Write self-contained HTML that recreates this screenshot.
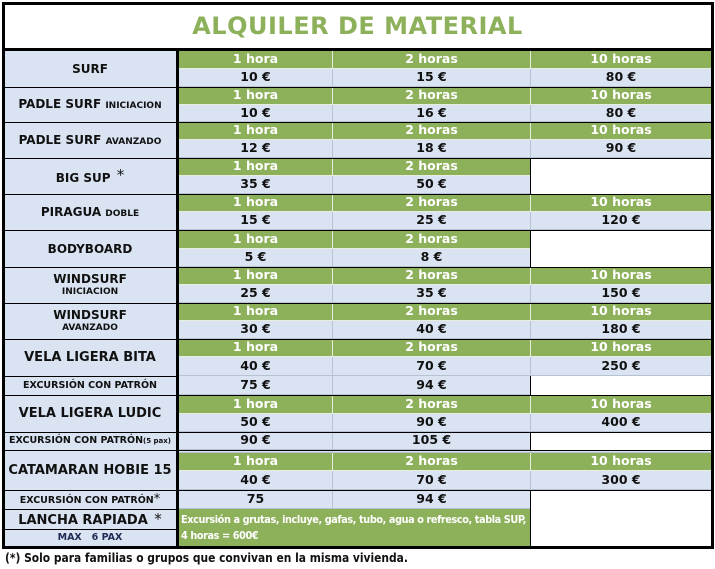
<!DOCTYPE html>
<html><head><meta charset="utf-8"><style>
*{margin:0;padding:0;box-sizing:border-box}
body{width:715px;height:569px;background:#fff;position:relative;font-family:Verdana,"DejaVu Sans","Liberation Sans",sans-serif;font-weight:bold;overflow:hidden}
div{position:absolute}
.c{display:flex;align-items:center;justify-content:center;text-align:center;font-size:12.5px;line-height:1}
.g{background:#8db05a;color:#fff;border-left:1px solid #e8eedd;border-bottom:1px solid #e8eedd}
.b{background:#dae3f2;color:#111;border-left:1px solid #b8c2d2;border-bottom:1px solid #b8c2d2}
.w{background:#fff}
.c1{left:178px;width:154px}.c2{left:332px;width:198px}.c3{left:530px;width:181px}
.L{left:3px;width:174px;background:#dae3f2;color:#111;font-size:12px}
.s{font-size:9px}
.hl{left:3px;width:709px;height:1px;background:#000}
</style></head><body>
<div style="left:3px;top:3px;width:709px;height:45px;" class="c"><span style="color:#8db05a;font-size:24px;letter-spacing:0.5px">ALQUILER DE MATERIAL</span></div>

<div class="L c" style="top:51px;height:36px">SURF</div>
<div class="L c" style="top:87px;height:35px"><span>PADLE SURF <span class="s">INICIACION</span></span></div>
<div class="L c" style="top:122px;height:36px"><span>PADLE SURF <span class="s">AVANZADO</span></span></div>
<div class="L c" style="top:158px;height:36px"><span>BIG SUP <span style="font-weight:normal;font-size:15px;margin-left:2px;vertical-align:2px">*</span></span></div>
<div class="L c" style="top:194px;height:36px"><span>PIRAGUA <span class="s">DOBLE</span></span></div>
<div class="L c" style="top:230px;height:37px">BODYBOARD</div>
<div class="L c" style="top:267px;height:36px;flex-direction:column">WINDSURF<span class="s" style="margin-top:3px">INICIACION</span></div>
<div class="L c" style="top:303px;height:36px;flex-direction:column">WINDSURF<span class="s" style="margin-top:3px">AVANZADO</span></div>
<div class="L c" style="top:339px;height:37px;font-size:13px">VELA LIGERA BITA</div>
<div class="L c s" style="top:376px;height:19px;font-size:9.5px">EXCURSIÓN CON PATRÓN</div>
<div class="L c" style="top:395px;height:37px;font-size:13px">VELA LIGERA LUDIC</div>
<div class="L c" style="top:432px;height:18px;font-size:9.5px"><span>EXCURSIÓN CON PATRÓN<span style="font-size:7px">(5 pax)</span></span></div>
<div class="L c" style="top:450px;height:40px;font-size:13px">CATAMARAN HOBIE 15</div>
<div class="L c" style="top:490px;height:19px;font-size:9.5px"><span>EXCURSIÓN CON PATRÓN<span style="font-weight:normal;font-size:13px">*</span></span></div>
<div class="L c" style="top:509px;height:20px;font-size:13px"><span>LANCHA RAPIADA <span style="font-weight:normal;font-size:15px;margin-left:2px">*</span></span></div>
<div class="L c" style="top:529px;height:18px;font-size:9.5px;color:#1f2a55">MAX&nbsp;&nbsp;&nbsp;6 PAX</div>

<div class="c g c1" style="top:51px;height:18px">1 hora</div><div class="c g c2" style="top:51px;height:18px">2 horas</div><div class="c g c3" style="top:51px;height:18px">10 horas</div>
<div class="c b c1" style="top:69px;height:18px">10 €</div><div class="c b c2" style="top:69px;height:18px">15 €</div><div class="c b c3" style="top:69px;height:18px">80 €</div>
<div class="c g c1" style="top:87px;height:18px">1 hora</div><div class="c g c2" style="top:87px;height:18px">2 horas</div><div class="c g c3" style="top:87px;height:18px">10 horas</div>
<div class="c b c1" style="top:105px;height:17px">10 €</div><div class="c b c2" style="top:105px;height:17px">16 €</div><div class="c b c3" style="top:105px;height:17px">80 €</div>
<div class="c g c1" style="top:122px;height:18px">1 hora</div><div class="c g c2" style="top:122px;height:18px">2 horas</div><div class="c g c3" style="top:122px;height:18px">10 horas</div>
<div class="c b c1" style="top:140px;height:18px">12 €</div><div class="c b c2" style="top:140px;height:18px">18 €</div><div class="c b c3" style="top:140px;height:18px">90 €</div>
<div class="c g c1" style="top:158px;height:18px">1 hora</div><div class="c g c2" style="top:158px;height:18px">2 horas</div><div class="c w c3" style="top:158px;height:36px"></div>
<div class="c b c1" style="top:176px;height:18px">35 €</div><div class="c b c2" style="top:176px;height:18px">50 €</div>
<div class="c g c1" style="top:194px;height:18px">1 hora</div><div class="c g c2" style="top:194px;height:18px">2 horas</div><div class="c g c3" style="top:194px;height:18px">10 horas</div>
<div class="c b c1" style="top:212px;height:18px">15 €</div><div class="c b c2" style="top:212px;height:18px">25 €</div><div class="c b c3" style="top:212px;height:18px">120 €</div>
<div class="c g c1" style="top:230px;height:19px">1 hora</div><div class="c g c2" style="top:230px;height:19px">2 horas</div><div class="c w c3" style="top:230px;height:37px"></div>
<div class="c b c1" style="top:249px;height:18px">5 €</div><div class="c b c2" style="top:249px;height:18px">8 €</div>
<div class="c g c1" style="top:267px;height:18px">1 hora</div><div class="c g c2" style="top:267px;height:18px">2 horas</div><div class="c g c3" style="top:267px;height:18px">10 horas</div>
<div class="c b c1" style="top:285px;height:18px">25 €</div><div class="c b c2" style="top:285px;height:18px">35 €</div><div class="c b c3" style="top:285px;height:18px">150 €</div>
<div class="c g c1" style="top:303px;height:18px">1 hora</div><div class="c g c2" style="top:303px;height:18px">2 horas</div><div class="c g c3" style="top:303px;height:18px">10 horas</div>
<div class="c b c1" style="top:321px;height:18px">30 €</div><div class="c b c2" style="top:321px;height:18px">40 €</div><div class="c b c3" style="top:321px;height:18px">180 €</div>
<div class="c g c1" style="top:339px;height:18px">1 hora</div><div class="c g c2" style="top:339px;height:18px">2 horas</div><div class="c g c3" style="top:339px;height:18px">10 horas</div>
<div class="c b c1" style="top:357px;height:19px">40 €</div><div class="c b c2" style="top:357px;height:19px">70 €</div><div class="c b c3" style="top:357px;height:19px">250 €</div>
<div class="c b c1" style="top:376px;height:19px">75 €</div><div class="c b c2" style="top:376px;height:19px">94 €</div><div class="c w c3" style="top:376px;height:19px"></div>
<div class="c g c1" style="top:395px;height:19px">1 hora</div><div class="c g c2" style="top:395px;height:19px">2 horas</div><div class="c g c3" style="top:395px;height:19px">10 horas</div>
<div class="c b c1" style="top:414px;height:18px">50 €</div><div class="c b c2" style="top:414px;height:18px">90 €</div><div class="c b c3" style="top:414px;height:18px">400 €</div>
<div class="c b c1" style="top:432px;height:18px">90 €</div><div class="c b c2" style="top:432px;height:18px">105 €</div><div class="c w c3" style="top:432px;height:18px"></div>
<div class="c b c1" style="top:450px;height:3px"></div><div class="c b c2" style="top:450px;height:3px"></div><div class="c b c3" style="top:450px;height:3px"></div>
<div class="c g c1" style="top:453px;height:18px">1 hora</div><div class="c g c2" style="top:453px;height:18px">2 horas</div><div class="c g c3" style="top:453px;height:18px">10 horas</div>
<div class="c b c1" style="top:471px;height:19px">40 €</div><div class="c b c2" style="top:471px;height:19px">70 €</div><div class="c b c3" style="top:471px;height:19px">300 €</div>
<div class="c b c1" style="top:490px;height:19px">75</div><div class="c b c2" style="top:490px;height:19px">94 €</div><div class="c w c3" style="top:490px;height:57px"></div>
<div style="left:178px;top:509px;width:352px;height:38px;background:#8db05a;color:#fff;font-family:'DejaVu Sans Condensed','Liberation Sans Narrow',sans-serif;font-size:10.8px;line-height:16px;padding:3px 0 0 3px;letter-spacing:-0.4px;white-space:nowrap;overflow:hidden">Excursión a grutas, incluye, gafas, tubo, agua o refresco, tabla SUP,<br>4 horas = 600€</div>

<div class="hl" style="top:87px"></div><div class="hl" style="top:122px"></div><div class="hl" style="top:158px"></div><div class="hl" style="top:194px"></div><div class="hl" style="top:230px"></div><div class="hl" style="top:267px"></div><div class="hl" style="top:303px"></div><div class="hl" style="top:339px"></div><div class="hl" style="top:376px;width:175px"></div><div class="hl" style="top:395px"></div><div class="hl" style="top:432px"></div><div class="hl" style="top:450px"></div><div class="hl" style="top:490px"></div><div class="hl" style="top:509px;width:175px"></div><div class="hl" style="top:529px;width:175px"></div>
<div style="left:530px;top:158px;width:1px;height:36px;background:#000"></div>
<div style="left:530px;top:230px;width:1px;height:37px;background:#000"></div>
<div style="left:530px;top:376px;width:1px;height:19px;background:#000"></div>
<div style="left:530px;top:432px;width:1px;height:18px;background:#000"></div>
<div style="left:530px;top:490px;width:1px;height:57px;background:#000"></div>
<div style="left:176px;top:48px;width:3px;height:500px;background:#000"></div>
<div style="left:3px;top:48px;width:709px;height:3px;background:#000"></div>
<div style="left:2px;top:2px;width:712px;height:547px;border:3px solid #000"></div>
<div style="left:5px;top:550px;font-size:12.5px;color:#111;white-space:nowrap;transform:scaleX(0.855);transform-origin:left top">(*) Solo para familias o grupos que convivan en la misma vivienda.</div>
</body></html>
